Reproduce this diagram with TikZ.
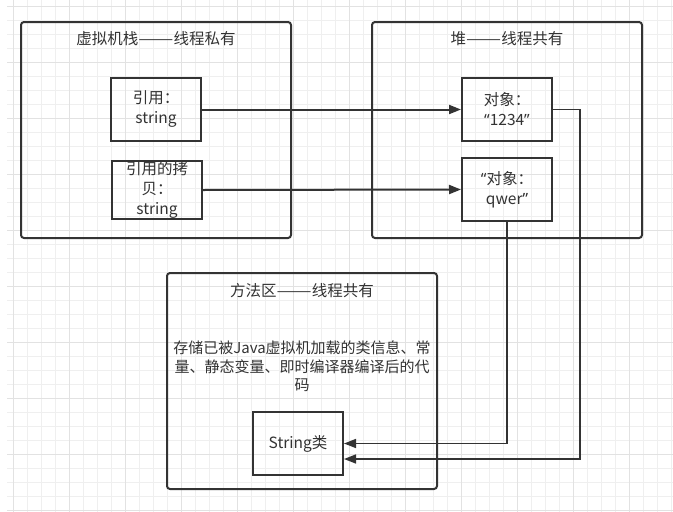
\documentclass[tikz,border=0pt]{standalone}
\usepackage{fontspec}
\setmainfont{Noto Sans CJK SC}
\newfontfamily\latinfont{Noto Sans}
\usetikzlibrary{arrows.meta}
\definecolor{linecol}{HTML}{333333}
\definecolor{gridminor}{HTML}{EFEFEF}
\definecolor{gridmajor}{HTML}{E2E2E2}
\newcommand{\qopen}{{\latinfont “}}
\newcommand{\qclose}{{\latinfont ”}}
\newcommand{\longdash}{\scalebox{1.35}[1]{——}}
\begin{document}
\begin{tikzpicture}[x=1pt,y=-1pt,
	area/.style={draw=linecol,line width=2pt,rounded corners=3pt,minimum width=270pt,minimum height=216pt,inner sep=0pt},
	cell/.style={draw=linecol,line width=2pt,minimum width=90pt,minimum height=63pt,inner sep=0pt,align=center,text=linecol,font=\fontsize{15.5}{20}\selectfont},
	areatitle/.style={text=linecol,font=\fontsize{15.5}{18}\selectfont},
	link/.style={draw=linecol,line width=2pt,-{Triangle[length=12pt,width=9pt]}},
	backlink/.style={draw=linecol,line width=1.5pt,-{Triangle[length=12pt,width=9pt]}}]
		\useasboundingbox (0,0) rectangle (673,512);
		\fill[white] (0,0) rectangle (673,512);
		% grid
		\foreach \k in {0,...,47} \draw[gridminor, line width=1pt] ({13.3+14*\k},0) -- ({13.3+14*\k},512);
		\foreach \k in {0,...,36} \draw[gridminor, line width=1pt] (7,{6+14*\k}) -- (673,{6+14*\k});
		\foreach \k in {0,...,11} \draw[gridmajor, line width=1pt] ({13.3+56*\k},0) -- ({13.3+56*\k},512);
		\foreach \k in {0,...,9} \draw[gridmajor, line width=1pt] (7,{6+56*\k}) -- (673,{6+56*\k});

		% areas
		\node[area] (stack) at (156,130) {};
		\node[area] (heap) at (507,130) {};
		\node[area] (method) at (302,381) {};
		\node[areatitle] (stacktitle) at (156,39) {虚拟机栈\longdash{}线程私有};
		\node[areatitle] (heaptitle) at (507,39) {堆\longdash{}线程共有};
		\node[areatitle] (methodtitle) at (302,291) {方法区\longdash{}线程共有};
		\node[areatitle, align=center, font=\fontsize{15}{18.5}\selectfont] (methoddesc) at (302,366.5)
			{存储已被Java虚拟机加载的类信息、常\\量、静态变量、即时编译器编译后的代\\码};

		% cells
		\node[cell] (ref) at (156,109.5) {引用：\\string};
		\node[cell, minimum height=58pt] (refcopy) at (157,190) {引用的拷\\贝：\\string};
		\node[cell] (obj1) at (507,109.5) {对象：\\\qopen{}1234\qclose{}};
		\node[cell] (obj2) at (507,189.5) {\qopen{}对象：\\qwer\qclose{}};
		\node[cell] (strclass) at (298,443.5) {String类};
		\coordinate (strin) at ([yshift=-15.5pt]strclass.east);

		% connectors
		\draw[link] (ref.east) -- (obj1.west);
		\draw[link] (refcopy.east) -- (obj2.west);
		\draw[backlink] (obj2.south) |- (strclass.east);
		\draw[backlink] (obj1.east) -- ++(27,0) |- (strin);
\end{tikzpicture}
\end{document}
